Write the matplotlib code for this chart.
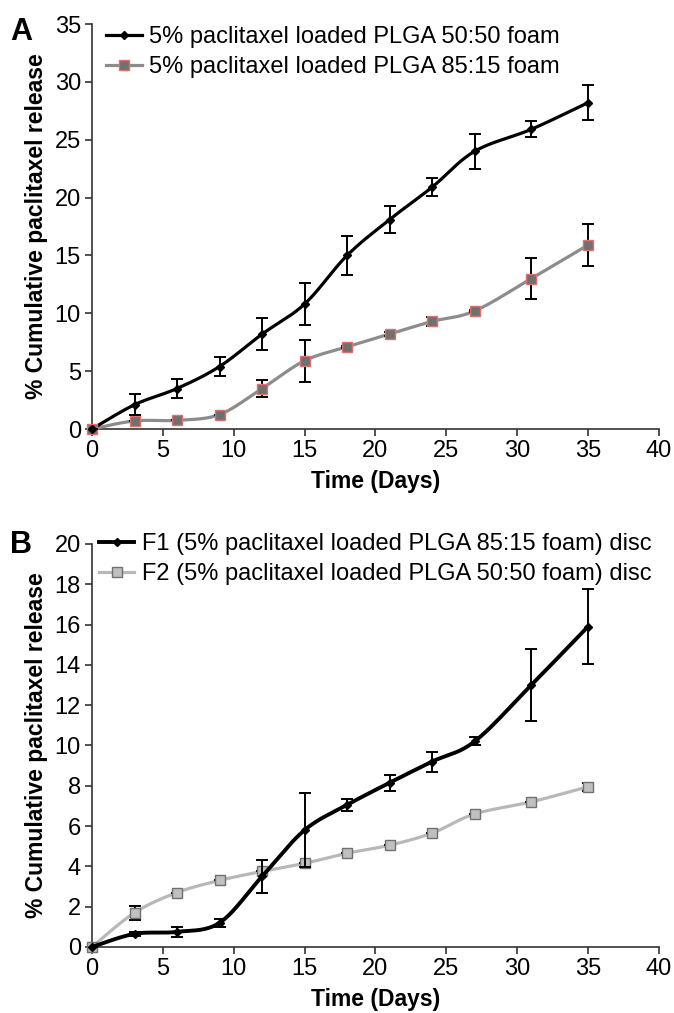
import numpy as np
import matplotlib
matplotlib.use("Agg")
import matplotlib.pyplot as plt
from matplotlib.lines import Line2D

plt.rcParams['font.family'] = ['Liberation Sans', 'DejaVu Sans']

days = [0, 3, 6, 9, 12, 15, 18, 21, 24, 27, 31, 35]

# panel A
a_5050 = [0, 2.1, 3.5, 5.4, 8.2, 10.8, 15.0, 18.1, 20.9, 24.0, 25.9, 28.2]
a_5050_err = [0, 0.9, 0.8, 0.8, 1.4, 1.8, 1.7, 1.2, 0.8, 1.5, 0.7, 1.5]
a_8515 = [0, 0.7, 0.75, 1.25, 3.5, 5.9, 7.1, 8.2, 9.3, 10.2, 13.0, 15.9]
a_8515_err = [0, 0, 0, 0, 0.75, 1.8, 0.1, 0.2, 0.4, 0.1, 1.8, 1.8]

# panel B
b_f1 = [0, 0.65, 0.75, 1.2, 3.5, 5.8, 7.05, 8.15, 9.2, 10.2, 13.0, 15.9]
b_f1_err = [0, 0.1, 0.25, 0.2, 0.8, 1.85, 0.3, 0.4, 0.5, 0.2, 1.8, 1.85]
b_f2 = [0, 1.7, 2.7, 3.3, 3.75, 4.15, 4.65, 5.05, 5.65, 6.6, 7.2, 7.95]
b_f2_err = [0, 0.35, 0, 0, 0, 0, 0, 0, 0, 0, 0, 0.2]

labels_a = ["5% paclitaxel loaded PLGA 50:50 foam", "5% paclitaxel loaded PLGA 85:15 foam"]
labels_b = ["F1 (5% paclitaxel loaded PLGA 85:15 foam) disc",
            "F2 (5% paclitaxel loaded PLGA 50:50 foam) disc"]


def smooth(x, y, n=20):
    # catmull-rom curve through the points, like excel's smoothed line
    x = np.asarray(x, float)
    y = np.asarray(y, float)
    px = np.concatenate([[x[0]], x, [x[-1]]])
    py = np.concatenate([[y[0]], y, [y[-1]]])
    xs, ys = [], []
    t = np.linspace(0, 1, n, endpoint=False)
    for i in range(1, len(px) - 2):
        for p, out in ((px, xs), (py, ys)):
            p0, p1, p2, p3 = p[i - 1], p[i], p[i + 1], p[i + 2]
            out.extend(0.5 * ((2 * p1) + (-p0 + p2) * t
                              + (2 * p0 - 5 * p1 + 4 * p2 - p3) * t ** 2
                              + (-p0 + 3 * p1 - 3 * p2 + p3) * t ** 3))
    xs.append(x[-1])
    ys.append(y[-1])
    return xs, ys


def series(ax, y, err, color, lw, marker, ms, mfc, mec, z):
    sx, sy = smooth(days, y)
    ax.plot(sx, sy, color=color, lw=lw, zorder=z)
    ax.errorbar(days, y, yerr=err, fmt='none', ecolor='black', elinewidth=1.4,
                capsize=4, capthick=1.4, zorder=z + 1)
    ax.plot(days, y, ls='none', marker=marker, ms=ms, mfc=mfc, mec=mec, mew=1.0,
            zorder=z + 2, clip_on=False)


def style(ax, ymax, ystep):
    ax.set_xlim(0, 40)
    ax.set_ylim(0, ymax)
    ax.set_xticks(range(0, 41, 5))
    ax.set_yticks(np.arange(0, ymax + 0.1, ystep))
    for s in ('top', 'right'):
        ax.spines[s].set_visible(False)
    for s in ('left', 'bottom'):
        ax.spines[s].set_color('#333333')
        ax.spines[s].set_linewidth(1.2)
    ax.tick_params(direction='out', length=5, width=1.2, color='#333333',
                   labelsize=17, pad=3)
    ax.set_xlabel("Time (Days)", fontsize=16.5, fontweight='bold', labelpad=6)
    ax.set_ylabel("% Cumulative paclitaxel release", fontsize=16.5, fontweight='bold',
                  labelpad=5)


fig = plt.figure(figsize=(6.74, 10.13), dpi=100)

# ---------- A ----------
axA = fig.add_axes([0.1365, 0.5765, 0.841, 0.3998])
series(axA, a_5050, a_5050_err, 'black', 2.3, 'D', 4.5, 'black', 'black', 5)
series(axA, a_8515, a_8515_err, '#8c8c8c', 2.3, 's', 7.5, '#707070', '#e07070', 3)
style(axA, 35, 5)
hA = [Line2D([], [], color='black', lw=2.3, marker='D', ms=4.5),
      Line2D([], [], color='#8c8c8c', lw=2.3, marker='s', ms=6.5, mfc='#707070', mec='#e07070')]
axA.legend(hA, labels_a, loc='upper left', bbox_to_anchor=(-0.012, 1.047), frameon=False,
           fontsize=17, handlelength=1.5, handletextpad=0.3, labelspacing=0.35)
fig.text(0.015, 0.968, "A", fontsize=22, fontweight='bold', va='center')

# ---------- B ----------
axB = fig.add_axes([0.1365, 0.0652, 0.841, 0.3978])
series(axB, b_f2, b_f2_err, '#b8b8b8', 2.3, 's', 7.8, '#c0c0c0', '#707070', 3)
series(axB, b_f1, b_f1_err, 'black', 2.8, 'D', 4.5, 'black', 'black', 5)
style(axB, 20, 2)
hB = [Line2D([], [], color='black', lw=2.8, marker='D', ms=4.5),
      Line2D([], [], color='#b8b8b8', lw=2.3, marker='s', ms=6.5, mfc='#c0c0c0', mec='#707070')]
axB.legend(hB, labels_b, loc='upper left', bbox_to_anchor=(-0.025, 1.08), frameon=False,
           fontsize=17, handlelength=1.5, handletextpad=0.3, labelspacing=0.35)
fig.text(0.015, 0.462, "B", fontsize=22, fontweight='bold', va='center')

fig.savefig("out.png", dpi=100)
